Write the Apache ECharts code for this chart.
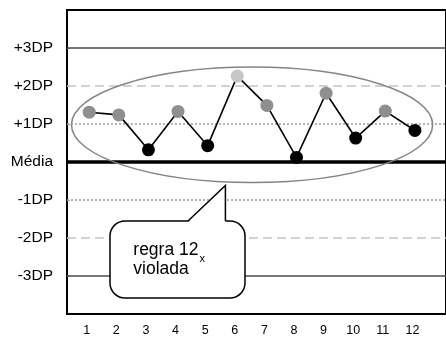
<!DOCTYPE html>
<html>
<head>
<meta charset="utf-8">
<script src="https://cdn.jsdelivr.net/npm/echarts@6/dist/echarts.min.js"></script>
<style>html,body{margin:0;padding:0;background:#fff}#c{width:446px;height:337px}</style>
</head>
<body>
<div id="c"></div>
<script>
var runs = [1,2,3,4,5,6,7,8,9,10,11,12];
var values = [1.31,1.24,0.32,1.33,0.43,2.26,1.49,0.12,1.81,0.63,1.34,0.83];
var levelValues = [3,2,1,0,-1,-2,-3];
var levelLabels = ['+3DP','+2DP','+1DP','Média','-1DP','-2DP','-3DP'];
var calloutLine1 = 'regra 12';
var calloutSub = 'x';
var calloutLine2 = 'violada';

var FONT = "'Liberation Sans', Arial, sans-serif";
function dotColor(v){ return v > 2 ? '#c6c6c6' : (v > 1 ? '#8f8f8f' : '#000000'); }
function levelStyle(v){
  var a = Math.abs(v);
  if (a === 0) return {color:'#000', width:3.5, type:'solid'};
  if (a === 1) return {color:'#9a9a9a', width:1.5, type:[2,2]};
  if (a === 2) return {color:'#c4c4c4', width:1.5, type:[9,5]};
  return {color:'#4a4a4a', width:1.5, type:'solid'};
}

var chart = echarts.init(document.getElementById('c'), null, {renderer:'canvas'});
var option = {
  animation:false,
  grid:{left:67, top:10, bottom:21, right:-4, show:true, borderColor:'#000', borderWidth:2, backgroundColor:'transparent', containLabel:false},
  xAxis:{type:'value', min:0.25, max:13.05,
    axisLine:{show:true, onZero:false, lineStyle:{color:'#000', width:2}},
    axisTick:{show:false}, splitLine:{show:false},
    axisLabel:{customValues:runs, margin:10, padding:[0,5,0,0], color:'#000', fontSize:12.5, fontFamily:FONT, formatter:function(v){return String(v);}}
  },
  yAxis:{type:'value', min:-4, max:4,
    axisLine:{show:true, lineStyle:{color:'#000', width:2}},
    axisTick:{show:true, inside:true, length:3, customValues:levelValues, lineStyle:{color:'#999', width:1}},
    splitLine:{show:false},
    axisLabel:{customValues:levelValues, margin:14, color:'#000', fontSize:15.5, fontFamily:FONT,
      formatter:function(v){ var i = levelValues.indexOf(v); return i>=0 ? levelLabels[i] : ''; }}
  },
  series:[{
    type:'line', z:4,
    data: runs.map(function(r,i){ return {value:[r, values[i]], itemStyle:{color:dotColor(values[i])}}; }),
    symbol:'circle', symbolSize:13,
    lineStyle:{color:'#000', width:1.6},
    itemStyle:{borderWidth:0},
    markLine:{silent:true, symbol:'none', label:{show:false}, z:1,
      data: levelValues.map(function(v){ return {yAxis:v, lineStyle:levelStyle(v)}; })
    }
  }]
};
chart.setOption(option);

var c = chart.convertToPixel({gridIndex:0}, [6.5, 0.98]);
var e1 = chart.convertToPixel({gridIndex:0}, [12.6, 2.5]);
var rx = e1[0]-c[0], ry = c[1]-e1[1];
var tip = chart.convertToPixel({gridIndex:0}, [5.6, -0.62]);
var bx0 = 110, bx1 = 245, by0 = 221, by1 = 298;
var baseL = 188;

chart.setOption({graphic:[
  {type:'ellipse', z:3, silent:true, shape:{cx:c[0], cy:c[1], rx:rx, ry:ry},
   style:{fill:'none', stroke:'#858585', lineWidth:1.5}},
  {type:'rect', z:10, silent:true, shape:{x:bx0, y:by0, width:bx1-bx0, height:by1-by0, r:15},
   style:{fill:'#fff', stroke:'#000', lineWidth:1.5}},
  {type:'polygon', z:11, silent:true, shape:{points:[[baseL, by0+1.3],[tip[0], tip[1]],[tip[0], by0+1.3]]},
   style:{fill:'#fff', stroke:null}},
  {type:'polyline', z:12, silent:true, shape:{points:[[baseL, by0],[tip[0], tip[1]],[tip[0], by0]]},
   style:{fill:null, stroke:'#000', lineWidth:1.5}},
  {type:'text', z:13, silent:true, x:133.3, y:240.5,
   style:{text:calloutLine1+'\n'+calloutLine2, fill:'#000', fontSize:17.5, fontFamily:FONT, lineHeight:19, verticalAlign:'top', align:'left'}},
  {type:'text', z:13, silent:true, x:199.5, y:259.3,
   style:{text:calloutSub, fill:'#000', fontSize:11, fontFamily:FONT, verticalAlign:'middle', align:'left'}}
]});
</script>
</body>
</html>
